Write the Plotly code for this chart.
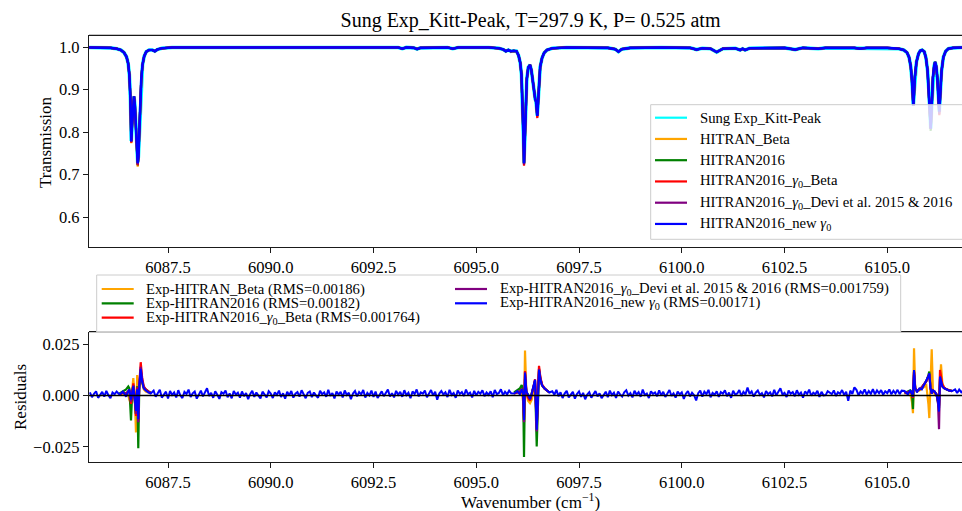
import numpy as np
import plotly.graph_objects as go

# ======================= DATA =======================
# --- upper panel: transmission on a shared wavenumber grid (cm^-1) ---
top_wn = [6085.58, 6085.90, 6086.10, 6086.25, 6086.35, 6086.43, 6086.49, 6086.53, 6086.56, 6086.585,
          6086.607, 6086.625, 6086.648, 6086.673, 6086.695, 6086.72, 6086.745, 6086.763, 6086.78, 6086.80,
          6086.825, 6086.85, 6086.88, 6086.92, 6086.97, 6087.04, 6087.12, 6087.18, 6087.24, 6087.35,
          6087.60, 6088.50, 6089.50, 6090.50, 6091.50, 6092.50, 6093.10, 6093.20, 6093.30, 6093.48,
          6093.56, 6093.64, 6094.30, 6094.43, 6094.56, 6095.30, 6095.55, 6095.66, 6095.72, 6095.78,
          6095.84, 6095.91, 6095.98, 6096.03, 6096.07, 6096.10, 6096.125, 6096.145, 6096.162, 6096.18,
          6096.20, 6096.23, 6096.265, 6096.308, 6096.34, 6096.37, 6096.395, 6096.412, 6096.435, 6096.454,
          6096.47, 6096.485, 6096.50, 6096.525, 6096.555, 6096.60, 6096.65, 6096.72, 6096.85, 6097.20,
          6098.20, 6098.38, 6098.46, 6098.54, 6098.75, 6099.50, 6100.20, 6100.36, 6100.50, 6100.70,
          6100.85, 6101.00, 6101.30, 6101.42, 6101.48, 6101.54, 6101.65, 6102.50, 6102.76, 6102.95,
          6103.32, 6103.50, 6104.20, 6104.33, 6104.50, 6105.00, 6105.28, 6105.40, 6105.48, 6105.53,
          6105.57, 6105.60, 6105.62, 6105.634, 6105.65, 6105.67, 6105.71, 6105.76, 6105.80, 6105.846,
          6105.90, 6105.94, 6105.98, 6106.01, 6106.035, 6106.057, 6106.08, 6106.11, 6106.14, 6106.162,
          6106.19, 6106.22, 6106.245, 6106.266, 6106.29, 6106.32, 6106.364, 6106.42, 6106.485, 6106.60,
          6106.85]
trans_new = [0.999, 0.999, 0.998, 0.996, 0.993, 0.987, 0.977, 0.962, 0.935, 0.880,
             0.778, 0.815, 0.868, 0.884, 0.862, 0.800, 0.745, 0.727, 0.742, 0.795,
             0.870, 0.925, 0.958, 0.978, 0.989, 0.993, 0.993, 0.990, 0.994, 0.997,
             0.999, 0.999, 0.999, 0.999, 0.999, 0.999, 0.999, 0.996, 0.999, 0.998,
             0.995, 0.998, 0.999, 0.996, 0.999, 0.999, 0.997, 0.994, 0.990, 0.993,
             0.990, 0.991, 0.990, 0.980, 0.963, 0.935, 0.880, 0.800, 0.727, 0.785,
             0.865, 0.925, 0.952, 0.958, 0.946, 0.922, 0.895, 0.882, 0.877, 0.872,
             0.856, 0.838, 0.862, 0.920, 0.953, 0.974, 0.986, 0.993, 0.997, 0.999,
             0.998, 0.995, 0.989, 0.995, 0.998, 0.999, 0.998, 0.994, 0.997, 0.996,
             0.988, 0.996, 0.997, 0.993, 0.996, 0.993, 0.997, 0.998, 0.994, 0.998,
             0.996, 0.998, 0.998, 0.996, 0.998, 0.998, 0.996, 0.993, 0.987, 0.976,
             0.955, 0.922, 0.890, 0.862, 0.888, 0.928, 0.965, 0.984, 0.991, 0.993,
             0.989, 0.975, 0.945, 0.900, 0.850, 0.808, 0.858, 0.928, 0.955, 0.965,
             0.955, 0.925, 0.880, 0.848, 0.890, 0.943, 0.976, 0.990, 0.996, 0.998,
             0.999]
# points where the other curves differ from HITRAN2016_new gamma0 (line-centre tips)
exp_tip_wn = [6086.607, 6086.763, 6096.162, 6096.485]
exp_tip_T = [0.779, 0.729, 0.728, 0.839]
beta_tip_wn = [6086.607, 6086.763, 6096.162, 6096.485]
beta_tip_T = [0.774, 0.719, 0.724, 0.835]
h16_tip_wn = [6086.763, 6096.162, 6106.057]
h16_tip_T = [0.722, 0.725, 0.803]
g0beta_tip_wn = [6086.607, 6086.763, 6096.162, 6096.485, 6106.162, 6106.266]
g0beta_tip_T = [0.775, 0.722, 0.721, 0.833, 0.961, 0.840]
devi_tip_wn = [6086.763, 6096.162, 6106.266]
devi_tip_T = [0.724, 0.724, 0.842]

# --- lower panel: residuals (units of 1e-3) ---
# baseline noise of Exp-HITRAN2016_new gamma0, sampled every 0.05 cm^-1 from each start value
noise_step = 0.05
noise_a_start = 6085.6
noise_a = [1.6, -0.8, 0.9, 2.1, -1.1, 0.4, 1.8, -0.5, 2.3, 0.2, -1.3, 1.5, 0.6, 2.0]
noise_b_start = 6087.15
noise_b = [2.4, -0.6, 1.2, 2.8, -1.0, 0.7, 1.9, -1.4, 2.2, 0.3, 1.5, -0.9, 2.6, 0.1, -1.2, 1.8, 0.8, 2.9, -0.7, 1.1,
           2.0, -1.5, 0.6, 2.4, -0.4, 1.6, 3.6, -0.2, 1.3, -1.1, 2.1, 0.4, -1.6, 1.7, 0.9, 2.5, -0.8, 1.0, -1.3, 2.2,
           0.5, 1.4, -1.0, 2.0, -0.3, 1.2, -1.7, 0.8, 2.3, -0.6, 1.5, 0.0, -1.4, 1.9, 0.6, -0.9, 2.1, 1.0, -1.2, 1.6,
           0.3, 2.4, -0.7, 1.1, -1.5, 1.8, 0.2, 2.2, -1.0, 0.9, 1.7, -0.5, 2.6, 0.4, -1.3, 1.3, 2.0, -0.8, 1.5, 0.1,
           -1.1, 2.3, 0.7, 1.6, -0.6, 2.8, -0.2, 1.2, -1.4, 2.0, 0.5, 1.8, -0.9, 2.5, 0.3, 1.4, -1.8, 1.0, 2.2, -0.4,
           1.7, 0.6, 2.7, -1.0, 1.3, 0.1, 2.4, -0.7, 1.9, -1.2, 0.8, 2.1, -0.3, 1.6, 2.9, -0.5, 1.1, -0.9, 2.3, 0.4,
           1.8, -0.6, 2.6, 0.2, 1.4, -1.3, 2.0, 0.7, 3.0, -0.4, 1.5, 0.9, 2.4, -0.8, 1.2, 2.7, 0.0, 1.9, -2.0, 1.0,
           2.2, 0.5, 1.6, -0.7, 2.8, 0.3, 1.3, -1.1, 2.5, 0.8, 1.7, -0.2, 2.9, 0.6, 1.4, -0.9, 2.3, 0.1, 1.8, 0.9,
           2.6, -0.3, 1.5, 0.4, 2.1, -0.8, 2.7, 0.7, 1.3, 3.1, 0.2, 1.9, 0.6, 2.4, 1.1]
noise_c_start = 6096.85
noise_c = [2.1, 0.4, 2.8, -0.3, 1.6, -1.2, 1.0, 2.3, -0.9, 0.6, 1.8, -1.5, 0.8, 2.0, -0.6, 1.3, -1.8, 0.5, 1.7, -1.0,
           0.9, 2.2, -0.4, 1.1, -1.3, 0.7, 1.9, -0.8, 2.4, 0.2, 1.4, -1.1, 2.0, 0.6, -0.5, 1.6, 2.6, 0.0, 1.2, -0.9,
           2.3, 0.5, 1.7, -0.6, 2.9, 0.3, 1.0, -1.2, 2.1, 0.8, 1.5, -0.3, 2.5, 0.1, 1.8, -0.7, 1.3, 2.7, -0.2, 1.1,
           -1.0, 2.0, 0.6, 1.6, -1.6, 0.9, 2.2, -0.4, 1.4, 0.2, -2.4, 1.2, 2.4, -0.5, 1.9, 0.7, 2.8, -0.8, 1.3, 0.4,
           2.1, -0.6, 1.7, 0.9, 2.6, -0.3, 1.5, -1.1, 2.3, 0.5, 1.0, 2.7, -0.2, 1.8, 0.6, 3.9, 0.8, 2.0, -0.5, 1.4,
           2.5, 0.3, 1.2, -0.9, 2.2, 0.7, 1.6, -0.4, 2.8, 0.1, 1.9, 3.6, 0.5, 1.3, -0.7, 2.4, 0.9, 1.7, -0.3, 2.6,
           0.4, 1.5, -1.0, 2.0, 0.8, 2.9, -0.1, 1.4, 0.6, 2.3, -0.6, 1.8, 0.1, 0.2, 2.1, 1.4, 0.7, 2.5, -0.2, 1.6,
           0.9, 2.7, 0.3, 1.9, -2.6, 2.4, 0.8, 4.0, 2.8, 0.2, 2.0, 1.0, 3.0, 0.5, 2.2, 0.9, 3.1, 0.6, 2.5, 1.1,
           2.7, 0.4, 2.1, 1.2, 3.0, 0.6, 2.3, 1.0, 2.8, 0.7, 2.4]
noise_d_start = 6106.65
noise_d = [3.0, 1.2, 2.9, 1.6, 2.6]

# residual structure around the three line groups, all five models
w1_wn = [6086.32, 6086.40, 6086.48, 6086.534, 6086.56, 6086.60, 6086.63, 6086.656, 6086.69, 6086.721,
         6086.75, 6086.777, 6086.80, 6086.836, 6086.87, 6086.91, 6086.96, 6087.02, 6087.08]
w1_beta = [0.5, 1.0, 0.5, 0.0, -2.0, -4.0, 3.0, 8.5, 0.0, -18.0, 10.0, -8.0, 6.0, 12.0, 6.0, 3.0, 2.0, 1.5, 1.0]
w1_h16 = [1.0, 2.0, 3.0, 4.4, 3.5, -12.2, 2.0, 5.0, -3.0, -9.0, 4.5, -25.7, 3.0, 11.0, 7.0, 4.0, 3.0, 2.0, 1.5]
w1_g0beta = [0.5, 1.5, 1.0, 2.0, 2.5, -4.0, 3.0, 6.0, -1.0, -10.0, 4.0, -12.0, 5.0, 16.3, 9.0, 4.5, 3.0, 2.0, 1.2]
w1_devi = [0.5, 1.5, 1.0, 2.0, 2.8, -3.0, 2.8, 5.0, -1.5, -9.0, 3.5, -13.0, 4.5, 14.0, 8.0, 4.0, 2.8, 1.8, 1.2]
w1_new = [0.5, 2.0, -0.5, 2.0, 3.0, -2.0, 2.5, 4.5, -1.5, -7.5, 3.0, -11.5, 4.0, 13.0, 7.0, 3.5, 2.5, 1.5, 1.0]

w2_wn = [6095.92, 6096.00, 6096.06, 6096.106, 6096.14, 6096.162, 6096.186, 6096.22, 6096.26, 6096.308,
         6096.35, 6096.39, 6096.43, 6096.471, 6096.50, 6096.527, 6096.56, 6096.60, 6096.66, 6096.72, 6096.78]
w2_beta = [1.0, 1.5, 1.5, 2.0, -3.0, -13.0, 22.0, 1.0, -2.5, -3.7, -2.0, 3.0, 6.0, -14.0, 3.5, 13.0, 8.5,
           5.0, 3.5, 2.5, 1.5]
w2_h16 = [1.5, 2.5, 3.5, 5.2, 2.0, -30.0, 8.0, 1.5, 0.5, -2.0, 1.5, 4.0, 7.0, -24.9, 3.0, 12.0, 8.0,
          5.0, 3.5, 2.5, 1.5]
w2_g0beta = [1.0, 1.5, 2.0, 3.0, 0.5, -12.0, 12.0, 1.5, -1.0, -2.5, 0.5, 4.0, 8.0, -16.0, 4.0, 14.5, 9.0,
             5.5, 3.5, 2.5, 1.5]
w2_devi = [1.0, 1.5, 2.0, 3.0, 0.8, -13.0, 11.5, 1.8, 0.3, -2.0, 1.0, 4.0, 7.5, -17.5, 3.5, 13.0, 8.5,
           5.0, 3.5, 2.5, 1.5]
w2_new = [1.0, 2.2, 0.5, 3.0, 1.0, -11.9, 10.9, 2.0, 0.5, -1.5, 1.0, 4.0, 7.7, -16.7, 3.0, 12.5, 8.0,
          5.0, 3.5, 2.5, 1.5]

w3_wn = [6105.42, 6105.50, 6105.56, 6105.60, 6105.625, 6105.651, 6105.68, 6105.72, 6105.78, 6105.84,
         6105.90, 6105.95, 6106.00, 6106.023, 6106.05, 6106.081, 6106.11, 6106.15, 6106.20, 6106.235,
         6106.259, 6106.283, 6106.307, 6106.34, 6106.38, 6106.43, 6106.50, 6106.58]
w3_beta = [1.0, 1.5, 1.0, -3.0, -8.6, 23.1, 3.0, 2.0, 2.5, 3.5, 4.5, 5.0, -4.0, -11.0, 5.0, 22.6, 3.0,
           1.0, 0.0, -2.0, -5.0, 8.0, 15.3, 6.0, 4.0, 3.2, 2.6, 2.2]
w3_h16 = [1.2, 1.8, 2.5, 1.5, -6.6, 10.0, 3.5, 2.5, 3.0, 4.0, 5.5, 7.0, 10.0, 11.7, 4.0, 1.0, 2.5,
          2.0, 0.5, -2.5, -6.0, 8.0, 6.0, 4.5, 3.6, 3.0, 2.5, 2.2]
w3_g0beta = [1.2, 1.6, 2.0, 1.0, -1.0, 11.5, 3.5, 2.5, 3.0, 4.0, 5.5, 7.0, 9.5, 10.5, 4.0, 1.0, 2.5,
             2.0, 0.5, -2.0, -5.0, 12.5, 9.0, 5.5, 4.0, 3.2, 2.6, 2.2]
w3_devi = [1.2, 1.5, 2.0, 1.0, -0.5, 12.0, 3.5, 2.5, 3.0, 4.0, 5.5, 7.0, 9.5, 10.5, 4.0, 1.0, 2.5,
           2.0, 0.5, -4.0, -16.4, 9.0, 7.0, 4.5, 3.6, 3.0, 2.5, 2.2]
w3_new = [2.2, 0.5, 2.6, 1.0, -0.5, 12.5, 3.5, 1.5, 3.5, 3.0, 5.5, 7.0, 9.5, 10.9, 4.0, 1.0, 2.5,
          2.0, 0.5, -3.0, -7.8, 9.3, 7.0, 4.5, 3.6, 3.0, 2.5, 2.2]

top_names = ["Sung Exp_Kitt-Peak", "HITRAN_Beta", "HITRAN2016",
             "HITRAN2016_<i>γ</i><sub>0</sub>_Beta",
             "HITRAN2016_<i>γ</i><sub>0</sub>_Devi et al. 2015 & 2016",
             "HITRAN2016_new <i>γ</i><sub>0</sub>"]
res_names = ["Exp-HITRAN_Beta (RMS=0.00186)", "Exp-HITRAN2016 (RMS=0.00182)",
             "Exp-HITRAN2016_<i>γ</i><sub>0</sub>_Beta (RMS=0.001764)",
             "Exp-HITRAN2016_<i>γ</i><sub>0</sub>_Devi et al. 2015 & 2016 (RMS=0.001759)",
             "Exp-HITRAN2016_new <i>γ</i><sub>0</sub> (RMS=0.00171)"]
title_text = "Sung Exp_Kitt-Peak, T=297.9 K, P= 0.525 atm"

# ======================= BUILD =======================
C_CYAN, C_ORANGE, C_GREEN, C_RED, C_PURPLE, C_BLUE = "#00ffff", "#ffa500", "#008000", "#ff0000", "#800080", "#0000ff"
FONT = "Liberation Serif, Times New Roman, serif"
W, H = 962, 511


def fx(px):
    return px / W


def fy(py):
    return 1 - py / H


def with_tips(base, tip_wn, tip_T):
    vals = list(base)
    for w, t in zip(tip_wn, tip_T):
        vals[top_wn.index(w)] = t
    return vals


def noise_seg(start, vals):
    return [round(start + noise_step * i, 3) for i in range(len(vals))], list(vals)


segs = [noise_seg(noise_a_start, noise_a), (w1_wn, w1_new), noise_seg(noise_b_start, noise_b),
        (w2_wn, w2_new), noise_seg(noise_c_start, noise_c), (w3_wn, w3_new), noise_seg(noise_d_start, noise_d)]
res_new_x, res_new_y = [], []
for sx, sy in segs:
    res_new_x += list(sx)
    res_new_y += [v * 1e-3 for v in sy]


def windows(a, b, c):
    xs, ys = [], []
    for wx, wy in ((w1_wn, a), (w2_wn, b), (w3_wn, c)):
        xs += wx + [None]
        ys += [v * 1e-3 for v in wy] + [None]
    return xs, ys


fig = go.Figure()

top_series = [
    (top_names[0], with_tips(trans_new, exp_tip_wn, exp_tip_T), C_CYAN, 3.6),
    (top_names[1], with_tips(trans_new, beta_tip_wn, beta_tip_T), C_ORANGE, 2.2),
    (top_names[2], with_tips(trans_new, h16_tip_wn, h16_tip_T), C_GREEN, 2.2),
    (top_names[3], with_tips(trans_new, g0beta_tip_wn, g0beta_tip_T), C_RED, 2.2),
    (top_names[4], with_tips(trans_new, devi_tip_wn, devi_tip_T), C_PURPLE, 2.2),
    (top_names[5], trans_new, C_BLUE, 2.6),
]
for name, yv, col, lw in top_series:
    fig.add_trace(go.Scatter(x=top_wn, y=yv, mode="lines", name=name, showlegend=False,
                             line=dict(color=col, width=lw), xaxis="x", yaxis="y"))

res_series = [
    (res_names[0], windows(w1_beta, w2_beta, w3_beta), C_ORANGE),
    (res_names[1], windows(w1_h16, w2_h16, w3_h16), C_GREEN),
    (res_names[2], windows(w1_g0beta, w2_g0beta, w3_g0beta), C_RED),
    (res_names[3], windows(w1_devi, w2_devi, w3_devi), C_PURPLE),
]
for name, (xs, ys), col in res_series:
    fig.add_trace(go.Scatter(x=xs, y=ys, mode="lines", name=name, showlegend=False, connectgaps=False,
                             line=dict(color=col, width=2.2), xaxis="x2", yaxis="y2"))
fig.add_trace(go.Scatter(x=res_new_x, y=res_new_y, mode="lines", name=res_names[4], showlegend=False,
                         line=dict(color=C_BLUE, width=2.0), xaxis="x2", yaxis="y2"))

XR = [6085.578, 6106.818]
axis_common = dict(showgrid=False, zeroline=False, showline=True, linecolor="#1a1a1a", linewidth=1.3,
                   ticks="outside", ticklen=5, tickwidth=1.2, tickcolor="#1a1a1a", automargin=False,
                   tickfont=dict(family=FONT, size=16.5, color="black"), mirror=False)
x_ticks = [6087.5, 6090.0, 6092.5, 6095.0, 6097.5, 6100.0, 6102.5, 6105.0]

fig.update_layout(
    width=W, height=H, autosize=False, margin=dict(l=0, r=0, t=0, b=0),
    paper_bgcolor="white", plot_bgcolor="white", showlegend=False,
    font=dict(family=FONT, color="black"),
    title=dict(text=title_text, x=fx(530.5), xanchor="center", y=fy(20), yanchor="middle",
               xref="container", yref="container", font=dict(family=FONT, size=20, color="black")),
    xaxis=dict(axis_common, domain=[fx(89), 1.0], range=XR, anchor="y", tickvals=x_ticks, tickformat=".1f"),
    yaxis=dict(axis_common, domain=[fy(247), fy(35.3)], range=[0.530, 1.0275], anchor="x",
               tickvals=[0.6, 0.7, 0.8, 0.9, 1.0], tickformat=".1f"),
    xaxis2=dict(axis_common, domain=[fx(89), 1.0], range=XR, anchor="y2", tickvals=x_ticks, tickformat=".1f"),
    yaxis2=dict(axis_common, domain=[fy(462.3), fy(331.7)], range=[-0.0326, 0.0312], anchor="x2",
                tickvals=[-0.025, 0.0, 0.025], tickformat=".3f"),
)

shapes = []
# top spines
for ypx in (35.3, 331.7):
    shapes.append(dict(type="line", xref="paper", yref="paper", x0=fx(89), x1=1.0, y0=fy(ypx), y1=fy(ypx),
                       line=dict(color="#1a1a1a", width=1.3), layer="above"))
# zero line in residual panel
shapes.append(dict(type="line", xref="x2 domain", yref="y2", x0=0, x1=1, y0=0, y1=0,
                   line=dict(color="black", width=1.4), layer="above"))

annotations = []
# top legend (manual)
shapes.append(dict(type="rect", xref="paper", yref="paper", x0=fx(650.7), x1=fx(975), y0=fy(239.3), y1=fy(104.7),
                   fillcolor="rgba(255,255,255,0.8)", line=dict(color="#cccccc", width=1), layer="above"))
for i, (name, yv, col, lw) in enumerate(top_series):
    ry = 117.7 + 21.25 * i
    shapes.append(dict(type="line", xref="paper", yref="paper", x0=fx(655), x1=fx(687), y0=fy(ry), y1=fy(ry),
                       line=dict(color=col, width=2.2), layer="above"))
    annotations.append(dict(text=name, xref="paper", yref="paper", x=fx(698.3), y=fy(ry), xanchor="left",
                            yanchor="middle", showarrow=False, font=dict(family=FONT, size=14.7, color="black")))

# residual legend (manual, two columns)
shapes.append(dict(type="rect", xref="paper", yref="paper", x0=fx(96.7), x1=fx(900.7), y0=fy(332), y1=fy(275),
                   fillcolor="rgba(255,255,255,0.8)", line=dict(color="#cccccc", width=1), layer="above"))
res_cols = [C_ORANGE, C_GREEN, C_RED, C_PURPLE, C_BLUE]
res_pos = [(101.7, 289), (101.7, 303.3), (101.7, 317.7), (455, 289), (455, 303.3)]
for name, col, (lx, ry) in zip(res_names, res_cols, res_pos):
    shapes.append(dict(type="line", xref="paper", yref="paper", x0=fx(lx), x1=fx(lx + 32), y0=fy(ry), y1=fy(ry),
                       line=dict(color=col, width=2.2), layer="above"))
    annotations.append(dict(text=name, xref="paper", yref="paper", x=fx(lx + 42.6), y=fy(ry), xanchor="left",
                            yanchor="middle", showarrow=False, font=dict(family=FONT, size=14.7, color="black")))

# axis titles
annotations.append(dict(text="Transmission", xref="paper", yref="paper", x=fx(45), y=fy(142), textangle=-90,
                        xanchor="center", yanchor="middle", showarrow=False,
                        font=dict(family=FONT, size=17, color="black")))
annotations.append(dict(text="Residuals", xref="paper", yref="paper", x=fx(20), y=fy(397), textangle=-90,
                        xanchor="center", yanchor="middle", showarrow=False,
                        font=dict(family=FONT, size=17, color="black")))
annotations.append(dict(text="Wavenumber (cm<sup>−1</sup>)", xref="paper", yref="paper", x=fx(530.8), y=fy(500.5),
                        xanchor="center", yanchor="middle", showarrow=False,
                        font=dict(family=FONT, size=17, color="black")))

fig.update_layout(shapes=shapes, annotations=annotations)
fig.write_html("out.html", config={"displayModeBar": False},
               post_script="document.body.style.margin='0';document.body.style.overflow='hidden';")
